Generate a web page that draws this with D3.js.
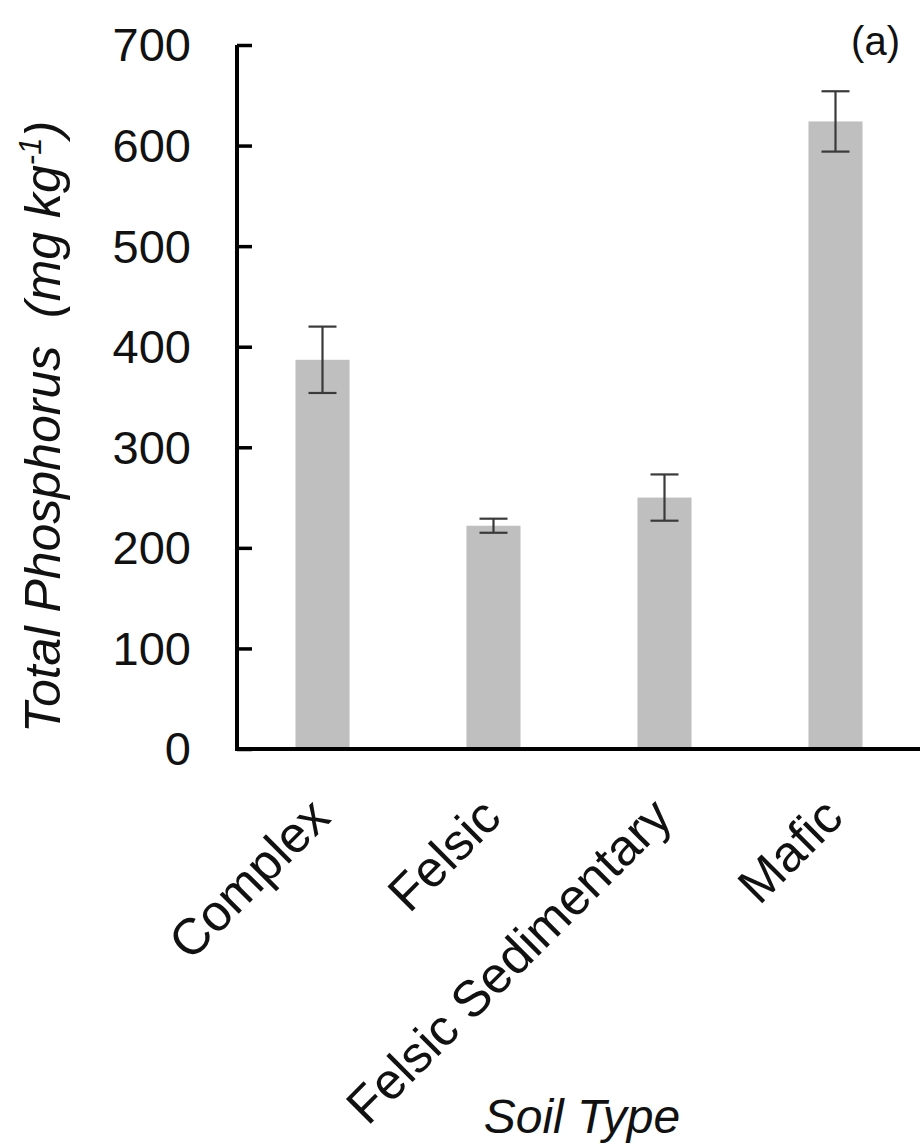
<!DOCTYPE html>
<html>
<head>
<meta charset="utf-8">
<script src="https://cdn.jsdelivr.net/npm/d3@7"></script>
<style>
  html, body { margin: 0; padding: 0; background: #fff; }
  svg { display: block; }
  text { font-family: "Liberation Sans", Arial, sans-serif; fill: #111; }
</style>
</head>
<body>
<svg id="chart" width="920" height="1148"></svg>
<script>
// Total phosphorus by soil type, mean with error bars
const soilTypes = ["Complex", "Felsic", "Felsic Sedimentary", "Mafic"];
const totalP = [387, 222, 250, 624];
const errorP = [33, 7, 23, 30];
const yTicks = [0, 100, 200, 300, 400, 500, 600, 700];

const svg = d3.select("#chart");
const plotLeft = 237, plotRight = 921, plotTop = 45, plotBottom = 749;

const x = d3.scaleBand()
  .domain(soilTypes)
  .range([plotLeft, plotRight])
  .paddingInner(0.684)
  .paddingOuter(0.342);

const y = d3.scaleLinear().domain([0, 700]).range([plotBottom, plotTop]);

const rows = soilTypes.map((s, i) => ({ s, v: totalP[i], e: errorP[i] }));

// bars
svg.append("g").selectAll("rect")
  .data(rows)
  .join("rect")
  .attr("x", d => x(d.s))
  .attr("width", x.bandwidth())
  .attr("y", d => y(d.v))
  .attr("height", d => y(0) - y(d.v))
  .attr("fill", "#bfbfbf");

// error bars
const capW = 28;
const eb = svg.append("g").attr("stroke", "#3a3a3a").attr("stroke-width", 2.2);
rows.forEach(d => {
  const cx = x(d.s) + x.bandwidth() / 2;
  eb.append("line").attr("x1", cx).attr("x2", cx).attr("y1", y(d.v + d.e)).attr("y2", y(d.v - d.e));
  eb.append("line").attr("x1", cx - capW / 2).attr("x2", cx + capW / 2).attr("y1", y(d.v + d.e)).attr("y2", y(d.v + d.e));
  eb.append("line").attr("x1", cx - capW / 2).attr("x2", cx + capW / 2).attr("y1", y(d.v - d.e)).attr("y2", y(d.v - d.e));
});

// y axis with inward ticks
const yAxis = svg.append("g")
  .attr("transform", `translate(${plotLeft},0)`)
  .call(d3.axisRight(y).tickValues(yTicks).tickSize(15).tickFormat(""));
yAxis.select(".domain").remove();
yAxis.selectAll(".tick line").attr("stroke", "#000").attr("stroke-width", 3.5);

svg.append("g").selectAll("text")
  .data(yTicks)
  .join("text")
  .attr("x", 191)
  .attr("y", d => y(d))
  .attr("dy", "0.35em")
  .attr("text-anchor", "end")
  .attr("font-size", 47)
  .text(d => d);

// axis lines
svg.append("path")
  .attr("d", `M${plotLeft},${plotTop}V${plotBottom}H${plotRight}`)
  .attr("fill", "none")
  .attr("stroke", "#000")
  .attr("stroke-width", 4);

// category labels
svg.append("g").selectAll("text")
  .data(soilTypes)
  .join("text")
  .attr("transform", d => `translate(${x(d) + x.bandwidth() / 2 + 10},820) rotate(-45)`)
  .attr("text-anchor", "end")
  .attr("font-size", 51)
  .text(d => d);

// axis titles
svg.append("text")
  .attr("x", 582).attr("y", 1133)
  .attr("text-anchor", "middle")
  .attr("font-size", 48)
  .attr("font-style", "italic")
  .text("Soil Type");

const yt = svg.append("text")
  .attr("transform", "translate(60,427) rotate(-90)")
  .attr("text-anchor", "middle")
  .attr("font-size", 50)
  .attr("font-style", "italic");
yt.append("tspan").text("Total Phosphorus\u00a0\u00a0(mg kg");
yt.append("tspan").attr("font-size", 31).attr("dy", -19).text("-1");
yt.append("tspan").attr("dy", 19).text(")");

// panel tag
svg.append("text")
  .attr("x", 900).attr("y", 55)
  .attr("text-anchor", "end")
  .attr("font-size", 40)
  .text("(a)");
</script>
</body>
</html>
